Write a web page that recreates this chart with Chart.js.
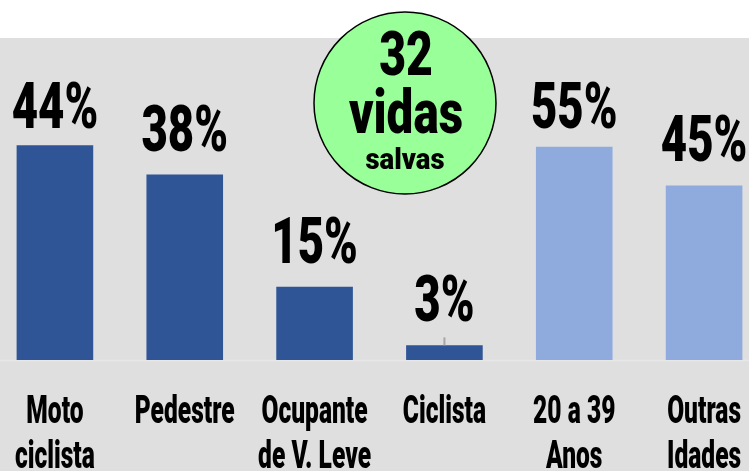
<!DOCTYPE html>
<html>
<head>
<meta charset="utf-8">
<script src="https://cdn.jsdelivr.net/npm/chart.js@4"></script>
<style>
  html, body { margin: 0; padding: 0; background: #fff; overflow: hidden; }
  body { width: 749px; height: 471px; position: relative; }
  #chart { position: absolute; left: -10px; top: 0; }
</style>
</head>
<body>
<canvas id="chart" width="779" height="471"></canvas>
<script>
// --- DATA ---
const categories = [['Moto', 'ciclista'], 'Pedestre', ['Ocupante', 'de V. Leve'], 'Ciclista', ['20 a 39', 'Anos'], ['Outras', 'Idades']];
const modeValues = [44, 38, 15, 3, null, null];   // por tipo de usuario
const ageValues = [null, null, null, null, 55, 45]; // por faixa etaria
const leaderLines = [false, false, false, true, false, false];
const badgeNumber = '32';
const badgeLines = ['vidas', 'salvas'];

const DARK_BLUE = '#2F5597';
const LIGHT_BLUE = '#8FAADC';
const FONT = 'Roboto, "DejaVu Sans", sans-serif';

// draws horizontally squeezed text (condensed look)
function condensedText(ctx, text, x, y, size, sx) {
    ctx.save();
    ctx.translate(x, y);
    ctx.scale(sx, 1);
    ctx.font = `900 ${size}px ${FONT}`;
    ctx.textAlign = 'center';
    ctx.textBaseline = 'alphabetic';
    ctx.fillText(text, 0, 0);
    ctx.restore();
}

const overlayPlugin = {
    id: 'overlay',
    beforeDraw(chart) {
        const { ctx, chartArea, width, height } = chart;
        ctx.save();
        ctx.fillStyle = '#DFDFDF';
        ctx.fillRect(0, chartArea.top, width, height - chartArea.top);
        // baseline
        ctx.strokeStyle = '#E7E7E7';
        ctx.lineWidth = 1.5;
        ctx.beginPath();
        ctx.moveTo(0, chartArea.bottom + 0.5);
        ctx.lineTo(width, chartArea.bottom + 0.5);
        ctx.stroke();
        ctx.restore();
    },
    afterDatasetsDraw(chart) {
        const { ctx, chartArea } = chart;
        ctx.save();
        ctx.fillStyle = '#000';

        // value labels + leader lines
        chart.data.datasets.forEach((ds, di) => {
            const meta = chart.getDatasetMeta(di);
            meta.data.forEach((bar, i) => {
                const v = ds.data[i];
                if (v === null) return;
                const base = Math.max(bar.y - 24, chartArea.top + 90);
                condensedText(ctx, v + '%', bar.x, base, 65, 0.7);
                if (leaderLines[i]) {
                    ctx.strokeStyle = '#A6A6A6';
                    ctx.lineWidth = 2;
                    ctx.beginPath();
                    ctx.moveTo(bar.x, bar.y);
                    ctx.lineTo(bar.x, bar.y - 8);
                    ctx.stroke();
                }
            });
        });

        // category labels
        const xScale = chart.scales.x;
        categories.forEach((c, i) => {
            const lines = Array.isArray(c) ? c : [c];
            const x = xScale.getPixelForValue(i);
            lines.forEach((ln, j) => {
                condensedText(ctx, ln, x, chartArea.bottom + 63 + j * 45, 39, 0.63);
            });
        });

        // badge
        const cx = 415, cy = 103, r = 91;
        ctx.beginPath();
        ctx.arc(cx, cy, r, 0, Math.PI * 2);
        ctx.fillStyle = '#99FF99';
        ctx.fill();
        ctx.strokeStyle = '#000';
        ctx.lineWidth = 1.5;
        ctx.stroke();
        ctx.fillStyle = '#000';
        condensedText(ctx, badgeNumber, cx + 1, 75, 61, 0.76);
        condensedText(ctx, badgeLines[0], cx + 1, 133, 61, 0.78);
        condensedText(ctx, badgeLines[1], cx, 169, 29, 0.95);
        ctx.restore();
    }
};

new Chart(document.getElementById('chart'), {
    type: 'bar',
    data: {
        labels: categories,
        datasets: [
            { data: modeValues, backgroundColor: DARK_BLUE, yAxisID: 'y', grouped: false },
            { data: ageValues, backgroundColor: LIGHT_BLUE, yAxisID: 'y2', grouped: false }
        ]
    },
    options: {
        responsive: false,
        animation: false,
        layout: { padding: { top: 38, bottom: 111, left: 0, right: 0 } },
        categoryPercentage: 1,
        barPercentage: 0.59,
        scales: {
            x: { display: false },
            y: { display: false, min: 0, max: 66 },
            y2: { display: false, min: 0, max: 83 }
        },
        plugins: {
            legend: { display: false },
            tooltip: { enabled: false }
        }
    },
    plugins: [overlayPlugin]
});
</script>
</body>
</html>
